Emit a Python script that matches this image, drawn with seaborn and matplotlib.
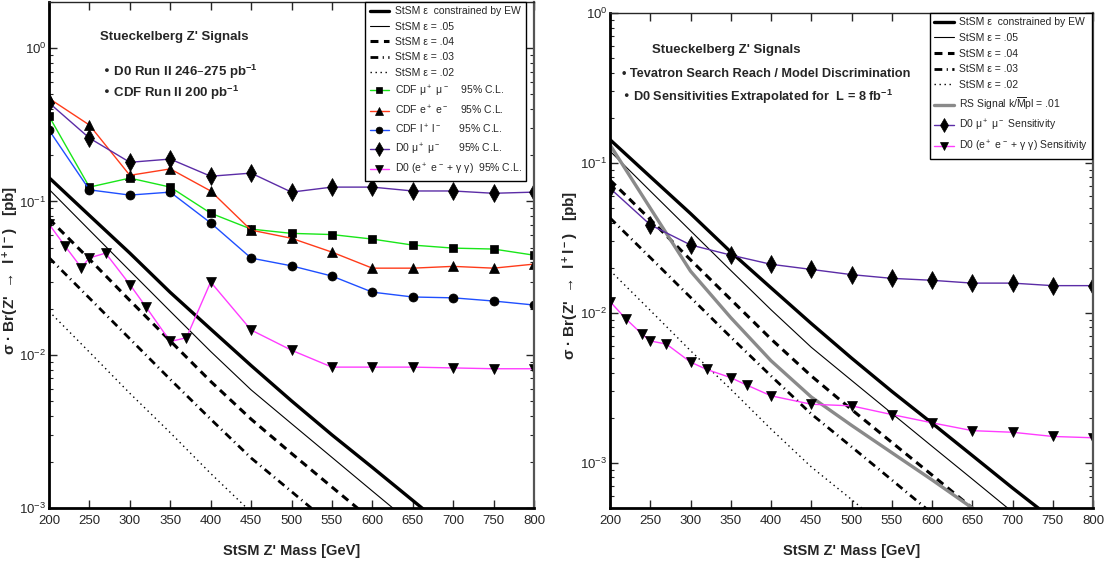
import matplotlib
matplotlib.use("Agg")
import matplotlib.pyplot as plt
import seaborn as sns
import numpy as np
import pandas as pd
from matplotlib.ticker import LogLocator, FixedLocator, NullFormatter

sns.set_style("ticks")
plt.rcParams['font.family'] = ['Liberation Sans', 'DejaVu Sans']
plt.rcParams['mathtext.default'] = 'regular'

# ---------------- data ----------------
mass = [200, 250, 300, 350, 400, 450, 500, 550, 600, 650, 700, 750, 800]

# StSM theory curves (pb)
stsm_ew = [0.143, 0.081, 0.046, 0.0255, 0.0147, 0.0085, 0.0050, 0.0030, 0.00184, 0.00112, 0.00068, 0.00042, 0.00026]
stsm_05 = [0.120, 0.065, 0.0353, 0.0192, 0.0105, 0.0059, 0.00355, 0.00214, 0.00129, 0.00078, 0.00047, 0.00028, 0.00017]
stsm_04 = [0.077, 0.042, 0.0226, 0.0123, 0.0067, 0.0038, 0.00227, 0.00137, 0.00083, 0.0005, 0.0003, 0.00018, 0.00011]
stsm_03 = [0.043, 0.0234, 0.0127, 0.0069, 0.0038, 0.00212, 0.00128, 0.00077, 0.00046, 0.00028, 0.00017, 0.0001, 0.00006]
stsm_02 = [0.0192, 0.0104, 0.0056, 0.0031, 0.00168, 0.00094, 0.00057, 0.00034, 0.00021, 0.000125, 0.000075, 0.000045, 0.000027]

# RS graviton signal
rs_mass = [200, 250, 300, 350, 400, 450, 500, 550, 600, 650, 700]
rs_sig = [0.132, 0.050, 0.019, 0.0093, 0.0048, 0.00275, 0.00178, 0.00117, 0.00077, 0.0005, 0.00033]

# Left panel: 95% C.L. limits
cdf_mumu = [0.36, 0.124, 0.142, 0.124, 0.0838, 0.066, 0.0619, 0.0608, 0.0568, 0.0519, 0.0496, 0.0489, 0.0446]
cdf_ee = [0.47, 0.315, 0.148, 0.163, 0.117, 0.065, 0.0575, 0.0467, 0.0367, 0.0367, 0.0377, 0.0367, 0.039]
cdf_ll = [0.292, 0.119, 0.110, 0.115, 0.0724, 0.0427, 0.038, 0.0326, 0.0256, 0.0238, 0.0235, 0.0224, 0.0211]
d0_mumu = [0.44, 0.259, 0.180, 0.189, 0.146, 0.153, 0.115, 0.124, 0.124, 0.117, 0.117, 0.113, 0.115]
d0_ee_mass = [200, 220, 240, 250, 270, 300, 320, 350, 370, 400, 450, 500, 550, 600, 650, 700, 750, 800]
d0_ee = [0.0711, 0.051, 0.037, 0.0428, 0.046, 0.0287, 0.0205, 0.0122, 0.0129, 0.0298, 0.0145, 0.0107, 0.0083, 0.0083, 0.0083, 0.0082, 0.0081, 0.0081]

# Right panel: extrapolated D0 sensitivities (8 fb^-1)
sens_mumu = [0.0678, 0.0387, 0.0284, 0.0243, 0.0211, 0.0195, 0.0180, 0.0170, 0.0165, 0.0158, 0.0158, 0.0152, 0.0152]
sens_ee_mass = [200, 220, 240, 250, 270, 300, 320, 350, 370, 400, 450, 500, 550, 600, 650, 700, 750, 800]
sens_ee = [0.0119, 0.0091, 0.0072, 0.0065, 0.0062, 0.0047, 0.0042, 0.0037, 0.0033, 0.0028, 0.00246, 0.0024, 0.0021, 0.00185, 0.00164, 0.0016, 0.0015, 0.00147]

lbl_ew = "StSM ε  constrained by EW"
lbl_05 = "StSM ε = .05"
lbl_04 = "StSM ε = .04"
lbl_03 = "StSM ε = .03"
lbl_02 = "StSM ε = .02"

GREEN = "#19e619"
RED = "#ff3b1a"
BLUE = "#1f4fff"
PURPLE = "#5b2ca6"
MAGENTA = "#ff3cff"
GRAY = "#8a8a8a"

fig = plt.figure(figsize=(11.08, 5.64), dpi=100)
axL = fig.add_axes([49/1108, 56/564, 485/1108, 506/564])
axR = fig.add_axes([610/1108, 56/564, 483/1108, 495/564])


def theory(ax):
    sns.lineplot(x=mass, y=stsm_ew, ax=ax, color="black", lw=2.4, label=lbl_ew, errorbar=None, sort=False)
    sns.lineplot(x=mass, y=stsm_05, ax=ax, color="black", lw=0.8, label=lbl_05, errorbar=None, sort=False)
    sns.lineplot(x=mass, y=stsm_04, ax=ax, color="black", lw=2.2, linestyle=(0, (2.6, 1.8)), label=lbl_04, errorbar=None, sort=False)
    sns.lineplot(x=mass, y=stsm_03, ax=ax, color="black", lw=2.0, linestyle=(0, (2.8, 1.6, 0.4, 1.6)), label=lbl_03, errorbar=None, sort=False)
    sns.lineplot(x=mass, y=stsm_02, ax=ax, color="black", lw=1.0, linestyle=(0, (1, 2.6)), label=lbl_02, errorbar=None, sort=False)


def marked(ax, x, y, color, marker, ms, label):
    sns.lineplot(x=x, y=y, ax=ax, color=color, lw=1.0, marker=marker, markersize=ms,
                 markerfacecolor="black", markeredgecolor="black", markeredgewidth=0.5,
                 label=label, errorbar=None, sort=False)


# ---------------- left panel ----------------
theory(axL)
marked(axL, mass, cdf_mumu, GREEN, "s", 5.5, "CDF μ$^+$ μ$^-$    95% C.L.")
marked(axL, mass, cdf_ee, RED, "^", 7, "CDF e$^+$ e$^-$    95% C.L.")
marked(axL, mass, cdf_ll, BLUE, "o", 6.5, "CDF l$^+$ l$^-$      95% C.L.")
marked(axL, mass, d0_mumu, PURPLE, "d", 9, "D0 μ$^+$ μ$^-$      95% C.L.")
marked(axL, d0_ee_mass, d0_ee, MAGENTA, "v", 7, "D0 (e$^+$ e$^-$ + γ γ)  95% C.L.")

# ---------------- right panel ----------------
theory(axR)
sns.lineplot(x=rs_mass, y=rs_sig, ax=axR, color=GRAY, lw=2.4, label="RS Signal k/$\\overline{M}$pl = .01", errorbar=None, sort=False)
marked(axR, mass, sens_mumu, PURPLE, "d", 9, "D0 μ$^+$ μ$^-$ Sensitivity")
marked(axR, sens_ee_mass, sens_ee, MAGENTA, "v", 7, "D0 (e$^+$ e$^-$ + γ γ) Sensitivity")

ylabel = "σ · Br(Z'  →  l$^+$l$^-$)   [pb]"
for ax, ylo, yhi, lx in [(axL, 1e-3, 2.0, -28/485), (axR, 5e-4, 1.0, -29/483)]:
    ax.set_yscale("log")
    ax.set_xlim(200, 800)
    ax.set_ylim(ylo, yhi)
    ax.xaxis.set_major_locator(FixedLocator(list(range(200, 801, 50))))
    ax.yaxis.set_major_locator(LogLocator(base=10))
    ax.yaxis.set_minor_locator(LogLocator(base=10, subs=np.arange(2, 10)))
    ax.yaxis.set_minor_formatter(NullFormatter())
    ax.tick_params(which="both", direction="in", top=True, right=True, labelsize=9.5)
    ax.tick_params(axis="x", pad=5)
    ax.tick_params(axis="y", pad=2)
    ax.tick_params(which="major", length=6, width=1.0)
    ax.tick_params(which="minor", length=3, width=0.8)
    ax.set_xlabel("StSM Z' Mass [GeV]", fontsize=10.5, fontweight="bold", labelpad=12)
    ax.set_ylabel(ylabel, fontsize=11, fontweight="bold")
    ax.yaxis.set_label_coords(lx, 0.47)
    for side in ["left", "bottom"]:
        ax.spines[side].set_linewidth(2.0)
        ax.spines[side].set_color("black")
    ax.spines["top"].set_linewidth(1.0)
    ax.spines["right"].set_linewidth(1.6)
    ax.spines["right"].set_color("#555555")

legL = axL.legend(loc="upper right", bbox_to_anchor=(0.983, 1.0), fontsize=7.5, frameon=True, fancybox=False,
                  edgecolor="black", framealpha=1, handlelength=1.9, labelspacing=0.52, borderpad=0.4,
                  handletextpad=0.5, borderaxespad=0.0, markerscale=0.75)
legL.get_frame().set_linewidth(1.0)
legR = axR.legend(loc="upper right", bbox_to_anchor=(0.998, 1.0), fontsize=7.5, frameon=True, fancybox=False,
                  edgecolor="black", framealpha=1, handlelength=1.9, labelspacing=0.55, borderpad=0.4,
                  handletextpad=0.5, borderaxespad=0.0, markerscale=0.75)
legR.get_frame().set_linewidth(1.0)

# annotations
axL.text(0.105, 0.931, "Stueckelberg Z' Signals", transform=axL.transAxes, fontsize=9.5, fontweight="bold", va="center")
axL.text(0.109, 0.862, "• D0 Run II 246–275 pb$^{-1}$", transform=axL.transAxes, fontsize=9.5, fontweight="bold", va="center")
axL.text(0.109, 0.820, "• CDF Run II 200 pb$^{-1}$", transform=axL.transAxes, fontsize=9.5, fontweight="bold", va="center")

axR.text(0.087, 0.925, "Stueckelberg Z' Signals", transform=axR.transAxes, fontsize=9.5, fontweight="bold", va="center")
axR.text(0.025, 0.877, "• Tevatron Search Reach / Model Discrimination", transform=axR.transAxes, fontsize=9.2, fontweight="bold", va="center")
axR.text(0.025, 0.830, "• D0 Sensitivities Extrapolated for  L = 8 fb$^{-1}$", transform=axR.transAxes, fontsize=9.2, fontweight="bold", va="center")

fig.savefig("out.png", dpi=100)
